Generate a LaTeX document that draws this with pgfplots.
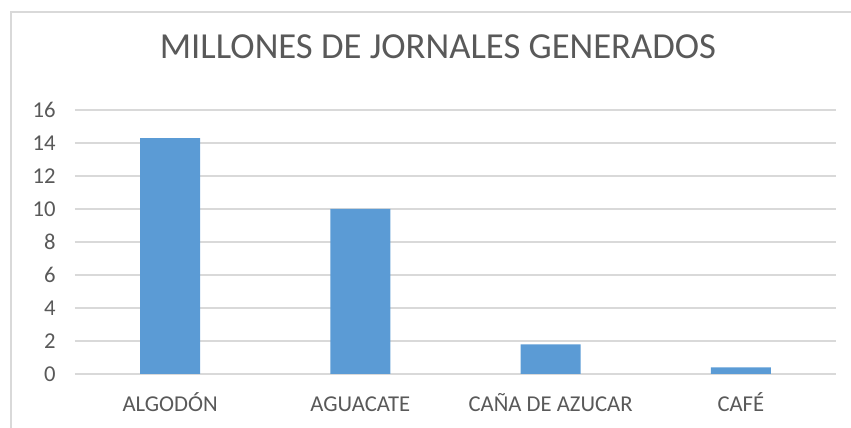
\documentclass[border=0pt]{standalone}
\usepackage{pgfplots}
\pgfplotsset{compat=1.18}
\usepackage{fontspec}
\setmainfont{Carlito}
\definecolor{barblue}{HTML}{5B9BD5}
\definecolor{gridgray}{HTML}{D9D9D9}
\definecolor{txt}{HTML}{595959}
\begin{document}
\begin{tikzpicture}
\path[use as bounding box] (-56.25pt,-40.5pt) rectangle (582pt,280.5pt);
\draw[gridgray, line width=1pt] (-48pt,-40.5pt) -- (-48pt,271.5pt) -- (582pt,271.5pt);
\begin{axis}[
  at={(0,0)}, anchor=south west,
  scale only axis,
  width=570.75pt, height=198pt,
  ybar, bar width=45pt,
  xmin=-0.5, xmax=3.5,
  ymin=0, ymax=16,
  ytick={0,2,...,16},
  xtick=data,
  xticklabels={ALGODÓN, AGUACATE, CAÑA DE AZUCAR, CAFÉ},
  axis line style={draw=none},
  major tick length=0pt,
  ymajorgrids,
  grid style={gridgray, line width=0.9pt},
  tick label style={font=\fontsize{17pt}{20pt}\selectfont, text=txt},
  /pgf/number format/assume math mode=true,
  yticklabel style={anchor=east, xshift=-11pt},
  xticklabel style={anchor=base, yshift=-28.5pt},
  title={MILLONES DE JORNALES GENERADOS},
  title style={at={(axis description cs:0.477,1.208)}, anchor=center, font=\fontsize{27.5pt}{32pt}\selectfont, text=txt},
]
\addplot[fill=barblue, draw=none] coordinates {(0,14.3) (1,10) (2,1.8) (3,0.4)};
\end{axis}
\end{tikzpicture}
\end{document}
